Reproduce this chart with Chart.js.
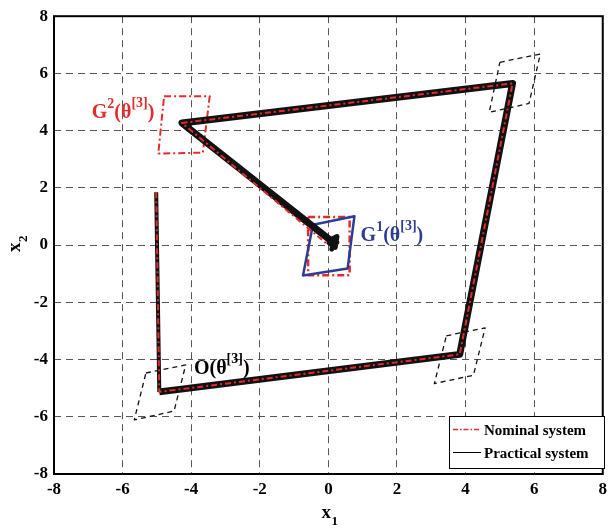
<!DOCTYPE html>
<html><head><meta charset="utf-8">
<script src="https://cdn.jsdelivr.net/npm/chart.js@4/dist/chart.umd.min.js"></script>
<style>html,body{margin:0;padding:0;background:#fff}#wrap{width:612px;height:531px}</style>
</head><body><div id="wrap"><canvas id="c" width="612" height="531"></canvas></div>
<script>
// ---- data ----
const axisTicks = [-8,-6,-4,-2,0,2,4,6,8];
const nominalX = [-5.02,-4.93,3.83,5.37,-4.27,0.0];
const nominalY = [1.85,-5.13,-3.82,5.65,4.27,0.0];
const practicalX = [-5.02,-4.93,3.83,5.37,-4.27,0.05,0.25,0.20,0.02,0.20,0.10,0.25,0.12];
const practicalY = [1.85,-5.13,-3.82,5.65,4.27,0.18,0.30,-0.08,0.08,0.22,-0.14,0.10,0.02];
const g2X = [-4.79,-3.46,-3.66,-4.96,-4.79];
const g2Y = [5.20,5.20,3.23,3.20,5.20];
const g1BoxX = [-0.59,0.62,0.62,-0.59,-0.59];
const g1BoxY = [0.98,0.98,-1.05,-1.05,0.98];
const g1X = [-0.45,0.76,0.56,-0.74,-0.45];
const g1Y = [0.71,1.01,-0.82,-1.06,0.71];
const oX = [-5.32,-4.16,-4.50,-5.66,-5.32];
const oY = [-4.47,-4.19,-5.80,-6.11,-4.47];
const r2X = [3.44,4.57,4.23,3.09,3.44];
const r2Y = [-3.17,-2.89,-4.55,-4.84,-3.17];
const r3X = [5.00,6.18,5.85,4.69,5.00];
const r3Y = [6.39,6.68,4.95,4.64,6.39];
const legendNames = ['Nominal system','Practical system'];

const pts = (xs, ys) => xs.map((x,i)=>({x, y: ys[i]}));
const RED = '#e32b2b', BLUE = '#2e3d94';
const serif = '"Liberation Serif","Times New Roman",serif';

function ds(data, color, width, dash, extra){
  return Object.assign({data, showLine:true, borderColor:color, borderWidth:width,
    borderDash:dash, pointRadius:0, fill:false, tension:0, borderJoinStyle:'round'}, extra||{});
}

const labels = [
  {x:-6.90, y:4.44, color:RED, main:'G', sup1:'2'},
  {x:0.94, y:0.16, color:BLUE, main:'G', sup1:'1'},
  {x:-3.92, y:-4.51, color:'#000', main:'O', sup1:''}
];

const overlay = {
  id:'overlay',
  afterDraw(chart){
    const ctx = chart.ctx, xs = chart.scales.x, ys = chart.scales.y;
    ctx.save();
    // region labels
    labels.forEach(l=>{
      let px = xs.getPixelForValue(l.x), py = ys.getPixelForValue(l.y);
      ctx.fillStyle = l.color; ctx.textBaseline='alphabetic'; ctx.textAlign='left';
      ctx.font = 'bold 20px '+serif;
      ctx.fillText(l.main, px, py); px += ctx.measureText(l.main).width;
      if (l.sup1){ ctx.font='bold 14px '+serif; ctx.fillText(l.sup1, px, py-10); px += ctx.measureText(l.sup1).width; }
      ctx.font = 'bold 20px '+serif;
      ctx.fillText('(θ', px, py); px += ctx.measureText('(θ').width;
      ctx.font='bold 14px '+serif; ctx.fillText('[3]', px, py-11); px += ctx.measureText('[3]').width;
      ctx.font = 'bold 20px '+serif; ctx.fillText(')', px, py);
    });
    // axis titles
    const ca = chart.chartArea;
    ctx.fillStyle='#000'; ctx.font='bold 19px '+serif; ctx.textAlign='left';
    const cx = (ca.left+ca.right)/2;
    ctx.fillText('x', cx-7, 518);
    ctx.font='bold 13px '+serif; ctx.fillText('1', cx+3, 525);
    ctx.save(); ctx.translate(20, (ca.top+ca.bottom)/2); ctx.rotate(-Math.PI/2);
    ctx.font='bold 19px '+serif; ctx.fillText('x', -7, 0);
    ctx.font='bold 13px '+serif; ctx.fillText('2', 3, 7);
    ctx.restore();
    // legend
    const L = 449, T = 416, R = 604, B = 468;
    ctx.fillStyle='#fff'; ctx.fillRect(L,T,R-L,B-T);
    ctx.strokeStyle='#000'; ctx.lineWidth=1; ctx.setLineDash([]); ctx.strokeRect(L+0.5,T+0.5,R-L,B-T);
    ctx.lineWidth=1.5; ctx.strokeStyle=RED; ctx.setLineDash([5,2,1.5,2]);
    ctx.beginPath(); ctx.moveTo(453,429.5); ctx.lineTo(481,429.5); ctx.stroke();
    ctx.setLineDash([]); ctx.strokeStyle='#000'; ctx.lineWidth=1;
    ctx.beginPath(); ctx.moveTo(453,452.5); ctx.lineTo(481,452.5); ctx.stroke();
    ctx.fillStyle='#000'; ctx.font='bold 15px '+serif;
    ctx.fillText(legendNames[0], 484, 435);
    ctx.fillText(legendNames[1], 484, 458);
    ctx.restore();
  }
};

const border = {
  id:'border',
  afterDatasetsDraw(chart){
    const ctx = chart.ctx, ca = chart.chartArea;
    ctx.save(); ctx.strokeStyle='#000'; ctx.lineWidth=2; ctx.setLineDash([]);
    ctx.strokeRect(ca.left, ca.top, ca.right-ca.left, ca.bottom-ca.top);
    ctx.restore();
  }
};

const gridCfg = {
  color:(c)=> (c.tick && (c.tick.value===-8 || c.tick.value===8)) ? 'rgba(0,0,0,0)' : '#555',
  lineWidth:1, drawTicks:false
};

new Chart(document.getElementById('c'), {
  type:'scatter',
  data:{ datasets:[
    ds(pts(nominalX,nominalY), RED, 2, [6,3,2,3]),
    ds(pts(practicalX,practicalY), '#111', 7, [], {
      segment:{ borderWidth:(c)=> c.p0DataIndex===0 ? 4 : (c.p0DataIndex>=5 ? 5 : 7) }
    }),
    ds(pts(g1X,g1Y), BLUE, 2.5, []),
    ds(pts(g1BoxX,g1BoxY), RED, 2.5, [7,3,2,3]),
    ds(pts(g2X,g2Y), RED, 2, [7,3,2,3]),
    ds(pts(oX,oY), '#111', 1.3, [5,4]),
    ds(pts(r2X,r2Y), '#111', 1.3, [5,4]),
    ds(pts(r3X,r3Y), '#111', 1.3, [5,4])
  ]},
  options:{
    responsive:false, animation:false, devicePixelRatio:1,
    layout:{ padding:{ top:10, right:5, left:0, bottom:0 } },
    plugins:{ legend:{display:false}, tooltip:{enabled:false} },
    scales:{
      x:{ type:'linear', min:-8, max:8,
        afterBuildTicks:(s)=>{ s.ticks = axisTicks.map(v=>({value:v})); },
        afterFit:(s)=>{ s.height = 57; },
        grid:Object.assign({}, gridCfg),
        border:{ display:false, dash:[7,5] },
        ticks:{ color:'#000', padding:5, font:{ family:serif, size:17, weight:'bold' }, maxRotation:0 }
      },
      y:{ type:'linear', min:-8, max:8,
        afterBuildTicks:(s)=>{ s.ticks = axisTicks.map(v=>({value:v})); },
        afterFit:(s)=>{ s.width = 54; },
        grid:Object.assign({}, gridCfg),
        border:{ display:false, dash:[7,5] },
        ticks:{ color:'#000', padding:6, font:{ family:serif, size:17, weight:'bold' } }
      }
    }
  },
  plugins:[border, overlay]
});
</script>
</body></html>
